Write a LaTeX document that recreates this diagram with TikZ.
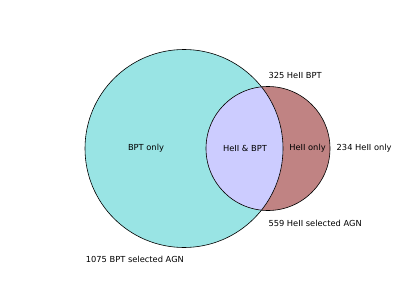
\documentclass[tikz,border=0pt]{standalone}
\usepackage{fontspec}
\setmainfont{DejaVu Sans}
\definecolor{bptfill}{RGB}{153,228,228}
\definecolor{heiifill}{RGB}{192,131,131}
\definecolor{bothfill}{RGB}{204,204,255}

\begin{document}
\begin{tikzpicture}[x=1pt,y=-1pt,
  ring/.style={draw=black,line width=0.6pt},
  label/.style={font=\fontsize{8.3}{10}\selectfont,text=black,inner sep=0pt},
]

\useasboundingbox (0,0) rectangle (407,305);
\coordinate (bpt) at (184,148.5);
\coordinate (heii) at (268,148.5);

\fill[bptfill] (bpt) circle[radius=99pt];
\fill[heiifill] (heii) circle[radius=62pt];
\begin{scope}
  \clip (bpt) circle[radius=99pt];
  \fill[bothfill] (heii) circle[radius=62pt];
\end{scope}
\draw[ring] (bpt) circle[radius=99pt];
\draw[ring] (heii) circle[radius=62pt];

\node[label] (bptonly) at (146,148) {BPT only};
\node[label] (both) at (245,148) {HeII \& BPT};
\node[label] (heiionly) at (307.5,148) {HeII only};
\node[label,anchor=west] (heiicount) at (336.5,148) {234 HeII only};
\node[label,anchor=west] (bothcount) at (268.3,75.7) {325 HeII BPT};
\node[label,anchor=west] (heiitotal) at (268.3,223) {559 HeII selected AGN};
\node[label,anchor=west] (bpttotal) at (85.7,259.3) {1075 BPT selected AGN};

\end{tikzpicture}
\end{document}
